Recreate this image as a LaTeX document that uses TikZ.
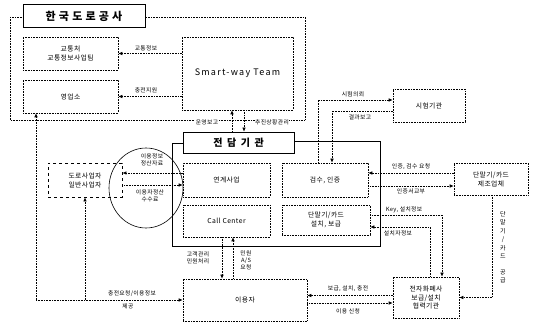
\documentclass[tikz,border=0pt]{standalone}
\usepackage{fontspec}
\setmainfont{Noto Sans CJK KR}[LetterSpace=6]
\newfontfamily\wide{Noto Sans CJK KR}[LetterSpace=14]
\usetikzlibrary{arrows.meta}
\begin{document}
\begin{tikzpicture}[x=1pt,y=-1pt,
  box/.style={draw, densely dotted, line width=0.6pt, align=center, inner sep=1pt,
    font=\fontsize{6.8}{9}\selectfont, fill=white},
  lbl/.style={font=\fontsize{5.8}{7}\selectfont, align=center, inner sep=0.5pt},
  arr/.style={densely dotted, line width=0.6pt, -{Latex[length=4pt,width=3.5pt]}},
  ln/.style={densely dotted, line width=0.6pt}
]
\useasboundingbox (0,0) rectangle (533,323);
% outer group of Korea Expressway Corporation
\draw[ln] (10,17) rectangle (305,120);
\node[draw, line width=1pt, fill=white, minimum width=122pt, minimum height=23pt, inner sep=0,
  font=\fontsize{11}{12}\selectfont\bfseries] (kec) at (84,16.5) {한 국 도 로 공 사};
\node[box, minimum width=95pt, minimum height=33pt] (kt) at (70.5,53.5) {교통처\\교통정보사업팀};
\node[box, minimum width=95pt, minimum height=33pt] (yb) at (70.5,96.5) {영업소};
\node[box, minimum width=111pt, minimum height=73pt, font=\wide\fontsize{9}{10}\selectfont] (sw) at (237.5,73.5) {Smart-way Team};
% frame of the dedicated agency
\draw[line width=0.9pt] (294,141) -- (380,141) -- (380,246) -- (172,246) -- (172,143) -- (183,143);
\node[draw, line width=0.7pt, fill=white, minimum width=111pt, minimum height=21pt, inner sep=0,
  font=\fontsize{10}{11}\selectfont\bfseries] (jd) at (238.5,142.5) {전 \,담 \,기 \,관};
\node[box, minimum width=87pt, minimum height=34pt] (yg) at (226.5,180) {연계사업};
\node[box, minimum width=87pt, minimum height=32pt] (cc) at (226.5,221) {Call Center};
\node[box, minimum width=86pt, minimum height=34pt] (gs) at (325,180) {검수, 인증};
\node[box, minimum width=88pt, minimum height=30pt] (si) at (326,220) {단말기/카드\\설치, 보급};
\node[box, minimum width=72pt, minimum height=33pt] (sh) at (429,105.5) {시험기관};
\node[box, minimum width=74pt, minimum height=32pt] (mf) at (491,179) {단말기/카드\\제조업체};
\node[box, minimum width=66pt, minimum height=41pt, font=\fontsize{6.8}{8.5}\selectfont] (ep) at (426,297.5) {전자화폐사\\보급/설치\\협력기관};
\node[box, minimum width=124pt, minimum height=42pt] (us) at (245,300) {이용자};
\node[draw, dashed, line width=0.8pt, minimum width=74pt, minimum height=34pt, align=center,
  inner sep=1pt, font=\fontsize{6.8}{9}\selectfont] (ds) at (85,180) {도로사업자\\일반사업자};
\draw[line width=0.6pt] (146,188) ellipse [x radius=37, y radius=40];
% Smart-way Team connectors
\draw[arr] (sw.west |- kt) -- (kt.east);
\node[lbl] (l1) at (146,48) {교통정보};
\draw[arr] (sw.west |- yb) -- (yb.east);
\node[lbl] (l2) at (146,90) {충전지원};
\draw[arr] ([xshift=-6.5pt]jd.north) -- ([xshift=-6.5pt]jd.north |- sw.south);
\draw[arr] ([xshift=5.5pt]jd.north |- sw.south) -- ([xshift=5.5pt]jd.north);
\node[lbl, fill=white] (l3) at (207,122) {운영보고};
\node[lbl, fill=white] (l4) at (272,122) {추진상황관리};
% test agency
\draw[arr] ([xshift=-7pt]gs.north) |- ([yshift=5.5pt]sh.west);
\draw[arr] ([yshift=-5.5pt]sh.west) -| ([xshift=7pt]gs.north);
\node[lbl] (l5) at (353,94) {시험의뢰};
\node[lbl] (l6) at (360,117) {결과보고};
% manufacturer
\draw[arr] ([yshift=6pt]mf.west) -- ([yshift=6pt]mf.west -| gs.east);
\draw[arr] ([yshift=-6pt]gs.east) -- ([yshift=-6pt]gs.east -| mf.west);
\node[lbl] (l7) at (411,167) {인증, 검수 요청};
\node[lbl] (l8) at (411,191) {인증서교부};
\draw[arr] ([xshift=1pt]mf.south) |- (ep.east);
\node[lbl, font=\fontsize{6}{8.5}\selectfont] (l9) at (503,247) {단\\말\\기\\/\\카\\드\\[7pt]공\\급};
% e-money company
\draw[arr] ([yshift=5pt]si.east) -| ([xshift=16pt]ep.north);
\draw[arr] ([xshift=4pt]ep.north) |- ([yshift=-7pt]si.east);
\node[lbl] (l10) at (404,210) {Key, 설치정보};
\node[lbl] (l11) at (398,233) {설치자정보};
\draw[arr] ([yshift=2pt]ep.west) -- ([yshift=2pt]ep.west -| us.east);
\draw[arr] ([yshift=-3pt]us.east) -- ([yshift=-3pt]us.east -| ep.west);
\node[lbl] (l12) at (348,289) {보급, 설치, 충전};
\node[lbl] (l13) at (348,311) {이용 신청};
% call center
\draw[arr] ([xshift=-4.5pt]cc.south) -- ([xshift=-4.5pt]cc.south |- us.north);
\draw[arr] ([xshift=6.5pt]cc.south |- us.north) -- ([xshift=6.5pt]cc.south);
\node[lbl, align=right] (l14) at (198,258) {고객관리\\민원처리};
\node[lbl] (l15) at (246,260) {민원\\A/S\\요청};
% bottom line
\coordinate (bl) at (36,300);
\draw[arr] (bl) -- (us.west);
\draw[arr] (bl) -- (bl |- yb.south);
\draw[arr] (ds.south |- bl) -- (ds.south);
\node[lbl] (l16) at (132,294) {충전요청/이용정보};
\node[lbl] (l17) at (128,306) {제공};
% linkage business
\draw[arr] ([yshift=7pt]yg.west) -- ([yshift=7pt]yg.west -| ds.east);
\draw[arr] ([yshift=-5pt]ds.east) -- ([yshift=-5pt]ds.east -| yg.west);
\node[lbl] (l18) at (152,160) {이용정보\\정산자료};
\node[lbl] (l19) at (150,196) {이용자정산\\수수료};
\end{tikzpicture}
\end{document}
